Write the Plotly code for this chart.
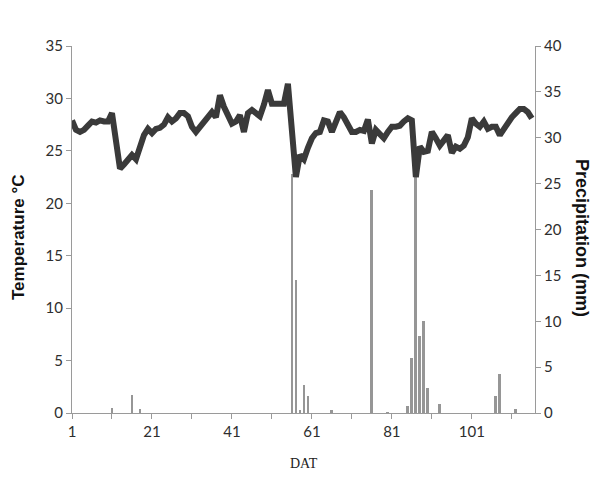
import plotly.graph_objects as go

days = list(range(1, 117))
temperature = [
    27.9, 27.0, 26.8, 27.0, 27.4, 27.8, 27.7, 27.9, 27.8, 27.8,
    28.6, 25.5, 23.3, 23.7, 24.1, 24.6, 24.2, 25.5, 26.5, 27.1,
    26.7, 27.1, 27.2, 27.5, 28.2, 27.8, 28.1, 28.6, 28.6, 28.3,
    27.3, 26.8, 27.3, 27.9, 28.2, 28.7, 28.2, 30.3, 29.2, 28.2,
    27.6, 27.8, 28.4, 26.8, 28.6, 28.9, 28.6, 28.3, 29.4, 30.8,
    29.5, 29.5, 29.5, 29.5, 31.4, 27.0, 22.5, 24.6, 24.2, 25.3,
    26.2, 26.7, 26.8, 27.9, 27.8, 26.8, 27.6, 28.7, 28.2, 27.5,
    26.8, 26.8, 27.0, 26.9, 28.0, 25.7, 27.0, 26.6, 26.2, 26.8,
    27.3, 27.3, 27.4, 27.8, 28.1, 27.9, 22.5, 25.4, 24.9, 25.0,
    26.8, 26.2, 25.5, 26.0, 26.5, 24.8, 25.4, 25.2, 25.5, 26.3,
    28.1, 27.6, 27.3, 27.8, 27.1, 27.3, 27.3, 26.5, 27.1, 27.6,
    28.2, 28.6, 29.0, 29.0, 28.7, 28.1,
]

rain_days = [11, 16, 18, 56, 57, 58, 59, 60, 66, 76, 80, 85, 86, 87, 88, 89, 90, 93, 107, 108, 112]
rain_mm = [0.5, 2.0, 0.4, 26.0, 14.5, 0.3, 3.1, 1.8, 0.3, 24.3, 0.1, 0.8, 6.0, 26.0, 8.4, 10.0, 2.7, 1.0, 1.9, 4.2, 0.4]

tick_vals = list(range(1, 112, 10))
tick_text = [str(v) if (v - 1) % 20 == 0 else "" for v in tick_vals]

fig = go.Figure()
fig.add_trace(go.Bar(x=rain_days, y=rain_mm, width=0.45, marker_color="#969696",
                     marker_line_width=0, yaxis="y", showlegend=False))
fig.add_trace(go.Scatter(x=days, y=temperature, mode="lines",
                         line=dict(color="#3a3a3a", width=6), yaxis="y2",
                         showlegend=False))

tick_font = dict(family="Lato, Open Sans, sans-serif", size=15, color="#2e2e2e")
fig.update_layout(
    width=593, height=470,
    margin=dict(l=64, r=66, t=38, b=65),
    paper_bgcolor="white", plot_bgcolor="white",
    bargap=0,
    xaxis=dict(range=[1, 116.8], tickvals=tick_vals, ticktext=tick_text,
               showgrid=False, zeroline=False, showline=True, linecolor="#9a9a9a",
               linewidth=1, ticks="outside", ticklen=5, tickcolor="#9a9a9a",
               tickfont=tick_font),
    yaxis=dict(range=[0, 40], dtick=5, side="right", showgrid=False, zeroline=False,
               showline=True, linecolor="#9a9a9a", linewidth=1, ticks="outside",
               ticklen=5, tickcolor="#9a9a9a", tickfont=tick_font),
    yaxis2=dict(range=[0, 35], dtick=5, side="left", overlaying="y", anchor="x",
                showgrid=False, zeroline=False, showline=True, linecolor="#9a9a9a",
                linewidth=1, ticks="outside", ticklen=5, tickcolor="#9a9a9a",
                tickfont=tick_font),
    annotations=[
        dict(text="DAT", xref="paper", yref="paper", x=0.5, y=(413 - 463) / 367,
             showarrow=False, font=dict(family="Liberation Serif, serif", size=14, color="#222222"),
             yanchor="middle"),
        dict(text="<b>Temperature °C</b>", xref="paper", yref="paper", x=(18 - 72) / 463,
             y=(413 - 237) / 367, textangle=-90, showarrow=False,
             font=dict(family="Liberation Sans, Arial, sans-serif", size=17, color="#111111"),
             xanchor="center", yanchor="middle"),
        dict(text="<b>Precipitation (mm)</b>", xref="paper", yref="paper", x=(582 - 72) / 463,
             y=(413 - 238) / 367, textangle=90, showarrow=False,
             font=dict(family="Liberation Sans, Arial, sans-serif", size=18, color="#111111"),
             xanchor="center", yanchor="middle"),
    ],
)

fig.write_html("out.html")
